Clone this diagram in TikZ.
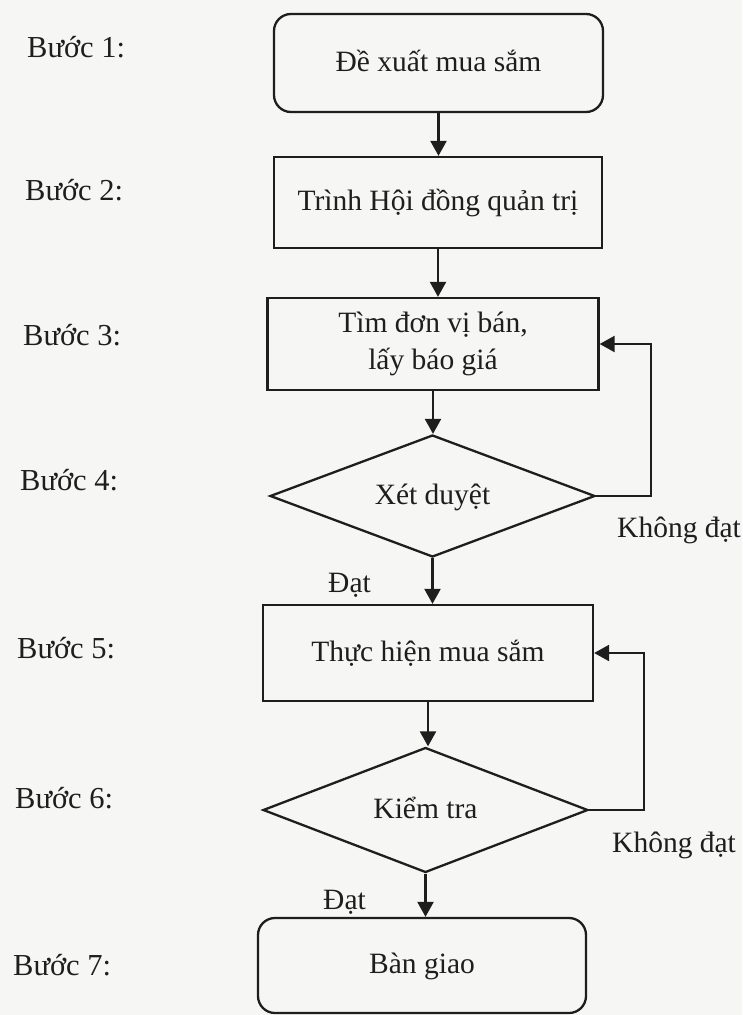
\documentclass[tikz,border=0pt]{standalone}
\usepackage{fontspec}
\setmainfont{Liberation Serif}
\usetikzlibrary{shapes.geometric,arrows.meta}
\definecolor{paper}{RGB}{246,246,244}
\definecolor{ink}{RGB}{30,30,30}
\begin{document}
\begin{tikzpicture}[x=1pt,y=-1pt,
  every node/.style={font=\fontsize{29.5}{37}\selectfont, text=ink},
  stepbox/.style={draw=ink, line width=2.3pt, inner sep=0pt},
  oneline/.style={text height=22pt, text depth=6pt},
  roundbox/.style={stepbox, oneline, rounded corners=17pt},
  decision/.style={diamond, aspect=2.66, stepbox, oneline},
  flow/.style={draw=ink, line width=2.3pt, -{Triangle[length=15pt,width=16pt]}},
  lbl/.style={anchor=base west, inner sep=0pt, font=\fontsize{30.5}{37}\selectfont},
  clbl/.style={anchor=base west, inner sep=0pt}
]
\fill[paper] (0,0) rectangle (742,1015);
\useasboundingbox (0,0) rectangle (742,1015);

% step labels
\node[lbl] (l1) at (27,57)  {Bước 1:};
\node[lbl] (l2) at (25,200) {Bước 2:};
\node[lbl] (l3) at (23,345) {Bước 3:};
\node[lbl] (l4) at (20,490) {Bước 4:};
\node[lbl] (l5) at (17,658) {Bước 5:};
\node[lbl] (l6) at (15,808) {Bước 6:};
\node[lbl] (l7) at (13,975) {Bước 7:};

% flow nodes
\node[roundbox, minimum width=329pt, minimum height=98pt] (b1) at (438.5,63) {Đề xuất mua sắm};
\node[stepbox, oneline, minimum width=328pt, minimum height=91pt] (b2) at (438,202.5) {Trình Hội đồng quản trị};
\node[stepbox, align=center, minimum width=331pt, minimum height=92pt] (b3) at (433,344) {Tìm đơn vị bán,\\lấy báo giá};
\node[decision, minimum width=325pt, minimum height=122pt] (d4) at (432.5,496) {Xét duyệt};
\node[stepbox, oneline, minimum width=330pt, minimum height=96pt] (b5) at (428,653) {Thực hiện mua sắm};
\node[decision, minimum width=325pt, minimum height=125pt] (d6) at (425.5,810) {Kiểm tra};
\node[roundbox, minimum width=328pt, minimum height=95pt] (b7) at (422,965.5) {Bàn giao};

% branch labels
\node[clbl] (kd1) at (617,537) {Không đạt};
\node[clbl] (dat1) at (328,592) {Đạt};
\node[clbl] (kd2) at (612,852) {Không đạt};
\node[clbl] (dat2) at (323,909) {Đạt};

% connectors
\draw[flow] (b1.south) -- (b1.south |- b2.north);
\draw[flow] (b2.south) -- (b2.south |- b3.north);
\draw[flow] (b3.south) -- (b3.south |- d4.north);
\draw[flow] (d4.south) -- (d4.south |- b5.north);
\draw[flow] (b5.south) -- (b5.south |- d6.north);
\draw[flow] (d6.south) -- (d6.south |- b7.north);
\draw[flow] (d4.east) -- ++(55,0) |- (b3.east);
\draw[flow] (d6.east) -- ++(55,0) |- (b5.east);
\end{tikzpicture}
\end{document}
